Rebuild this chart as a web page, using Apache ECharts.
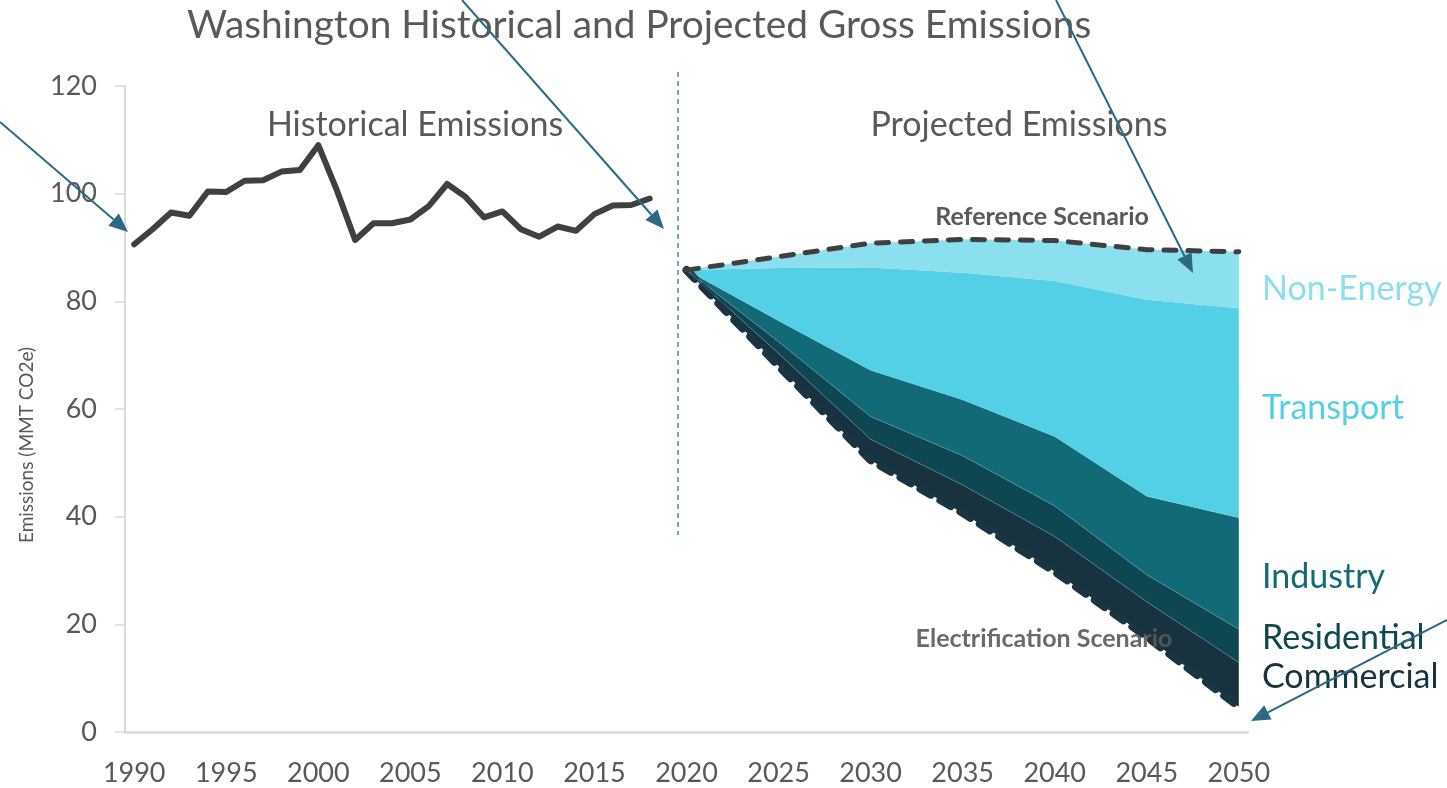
<!DOCTYPE html>
<html>
<head>
<meta charset="utf-8">
<script src="https://cdn.jsdelivr.net/npm/echarts@6/dist/echarts.min.js"></script>
<style>
  html, body { margin: 0; padding: 0; background: #fff; }
  #chart { width: 1447px; height: 788px; }
</style>
</head>
<body>
<div id="chart"></div>
<script>
// one category per year, like the excel source
const allYears = ["1990", "1991", "1992", "1993", "1994", "1995", "1996", "1997", "1998", "1999",
  "2000", "2001", "2002", "2003", "2004", "2005", "2006", "2007", "2008", "2009",
  "2010", "2011", "2012", "2013", "2014", "2015", "2016", "2017", "2018", "2019",
  "2020", "2021", "2022", "2023", "2024", "2025", "2026", "2027", "2028", "2029",
  "2030", "2031", "2032", "2033", "2034", "2035", "2036", "2037", "2038", "2039",
  "2040", "2041", "2042", "2043", "2044", "2045", "2046", "2047", "2048", "2049", "2050"];

// historical gross emissions, MMT CO2e
const histYears = ["1990", "1991", "1992", "1993", "1994", "1995", "1996", "1997", "1998", "1999",
  "2000", "2001", "2002", "2003", "2004", "2005", "2006", "2007", "2008", "2009",
  "2010", "2011", "2012", "2013", "2014", "2015", "2016", "2017", "2018"];
const histEmissions = [90.6, 93.4, 96.5, 95.9, 100.4, 100.3, 102.4, 102.5, 104.1, 104.4,
  109.0, 100.7, 91.4, 94.5, 94.5, 95.2, 97.7, 101.8, 99.4, 95.6,
  96.7, 93.4, 92.0, 93.9, 93.1, 96.2, 97.8, 97.9, 99.1];

// projections (wedges stacked on top of the electrification scenario)
const projYears = ["2020", "2025", "2030", "2035", "2040", "2045", "2050"];
const electrification = [85.8, 68.0, 50.5, 40.7, 29.8, 17.7, 4.7];
const commercial = [0, 2.3, 3.9, 5.2, 6.5, 6.5, 8.2];
const residential = [0, 2.2, 4.2, 5.4, 5.7, 5.0, 6.2];
const industry = [0, 3.9, 8.6, 10.4, 12.9, 14.6, 20.7];
const transport = [0, 9.8, 19.1, 23.6, 28.9, 36.5, 38.9];
const nonEnergy = [0, 2.1, 4.5, 6.2, 7.5, 9.3, 10.5];
const reference = [85.8, 88.3, 90.8, 91.5, 91.3, 89.6, 89.2];

const FONT = "Lato, 'Open Sans', sans-serif";
const GREY = "#595959";
const ARROW = "#2b6a82";

const pts = (years, vals) => years.map((y, i) => [y, vals[i]]);
const every5 = (index) => index % 5 === 0;

function wedge(name, vals, color) {
  return {
    name: name,
    type: "line",
    stack: "elec",
    symbol: "none",
    data: pts(projYears, vals),
    lineStyle: { width: 0.6, color: "rgba(150,210,220,0.45)" },
    areaStyle: { color: color, opacity: 1 },
  };
}

function arrow(x1, y1, x2, y2) {
  const ang = Math.atan2(y2 - y1, x2 - x1);
  const len = 19, half = 8;
  const bx = x2 - len * Math.cos(ang), by = y2 - len * Math.sin(ang);
  const px = -Math.sin(ang) * half, py = Math.cos(ang) * half;
  return [
    { type: "line", z: 110, shape: { x1: x1, y1: y1, x2: bx, y2: by }, style: { stroke: ARROW, lineWidth: 2 } },
    { type: "polygon", z: 110, shape: { points: [[x2, y2], [bx + px, by + py], [bx - px, by - py]] }, style: { fill: ARROW } },
  ];
}

function label(text, x, y, color, size, weight, align) {
  return {
    type: "text", x: x, y: y, z: 100,
    style: {
      text: text, fill: color, font: (weight || "normal") + " " + size + "px " + FONT,
      align: align || "left", verticalAlign: "middle",
    },
  };
}

const chart = echarts.init(document.getElementById("chart"));
chart.setOption({
  animation: false,
  backgroundColor: "#fff",
  title: {
    text: "Washington Historical and Projected Gross Emissions",
    left: 182, top: 1,
    textStyle: { color: GREY, fontSize: 38.8, fontWeight: "normal", fontFamily: FONT },
  },
  grid: { left: 125, right: 199, top: 86, bottom: 56 },
  xAxis: {
    type: "category",
    data: allYears,
    boundaryGap: true,
    axisLine: { lineStyle: { color: "#d9d9d9", width: 2.5 } },
    axisTick: { interval: every5, length: 10, lineStyle: { color: "#d9d9d9", width: 1.5 } },
    axisLabel: { interval: every5, color: GREY, fontSize: 27, margin: 28, fontFamily: FONT },
    splitLine: { show: false },
  },
  yAxis: {
    type: "value", min: 0, max: 120, interval: 20,
    axisLine: { show: true, lineStyle: { color: "#d9d9d9", width: 2 } },
    axisTick: { show: true, length: 10, lineStyle: { color: "#d9d9d9", width: 1.5 } },
    axisLabel: { color: GREY, fontSize: 27, margin: 28, fontFamily: FONT },
    splitLine: { show: false },
  },
  series: [
    {
      name: "Historical",
      type: "line",
      symbol: "none",
      data: pts(histYears, histEmissions),
      lineStyle: { color: "#404040", width: 6, join: "round", cap: "round" },
    },
    {
      name: "Electrification Scenario",
      type: "line",
      stack: "elec",
      symbol: "none",
      data: pts(projYears, electrification),
      lineStyle: { color: "#1a3441", width: 8, type: [12, 11], cap: "round" },
    },
    wedge("Commercial", commercial, "#183240"),
    wedge("Residential", residential, "#0e4652"),
    wedge("Industry", industry, "#126a78"),
    wedge("Transport", transport, "#53d0e5"),
    wedge("Non-Energy", nonEnergy, "#8be0ef"),
    {
      name: "Reference Scenario",
      type: "line",
      symbol: "none",
      z: 5,
      data: pts(projYears, reference),
      lineStyle: { color: "#404040", width: 5, type: [12, 12], cap: "round" },
    },
  ],
  graphic: [
    { type: "line", shape: { x1: 678, y1: 72, x2: 678, y2: 535 },
      style: { stroke: "#4f8a9c", lineWidth: 1.5, lineDash: [5, 4] } },
    {
      type: "text", x: 27, y: 445, rotation: Math.PI / 2,
      style: { text: "Emissions (MMT CO2e)", fill: GREY, font: "19px " + FONT, align: "center", verticalAlign: "middle" },
    },
    label("Historical Emissions", 415, 125, GREY, 34, "normal", "center"),
    label("Projected Emissions", 1019, 125, GREY, 34, "normal", "center"),
    label("Reference Scenario", 1042, 217, GREY, 25, "bold", "center"),
    label("Electrification Scenario", 1044, 639, "rgba(90,90,90,0.9)", 25, "bold", "center"),
    label("Non-Energy", 1262, 289, "#8be0ef", 34),
    label("Transport", 1262, 408, "#53d0e5", 34),
    label("Industry", 1262, 577, "#126a78", 34),
    label("Residential", 1262, 638, "#0e4652", 34),
    label("Commercial", 1262, 677, "#183240", 34),
  ]
    .concat(arrow(0, 122, 128, 232))
    .concat(arrow(462, 0, 664, 229))
    .concat(arrow(1056, 0, 1193, 273))
    .concat(arrow(1447, 620, 1251, 721)),
});
</script>
</body>
</html>
